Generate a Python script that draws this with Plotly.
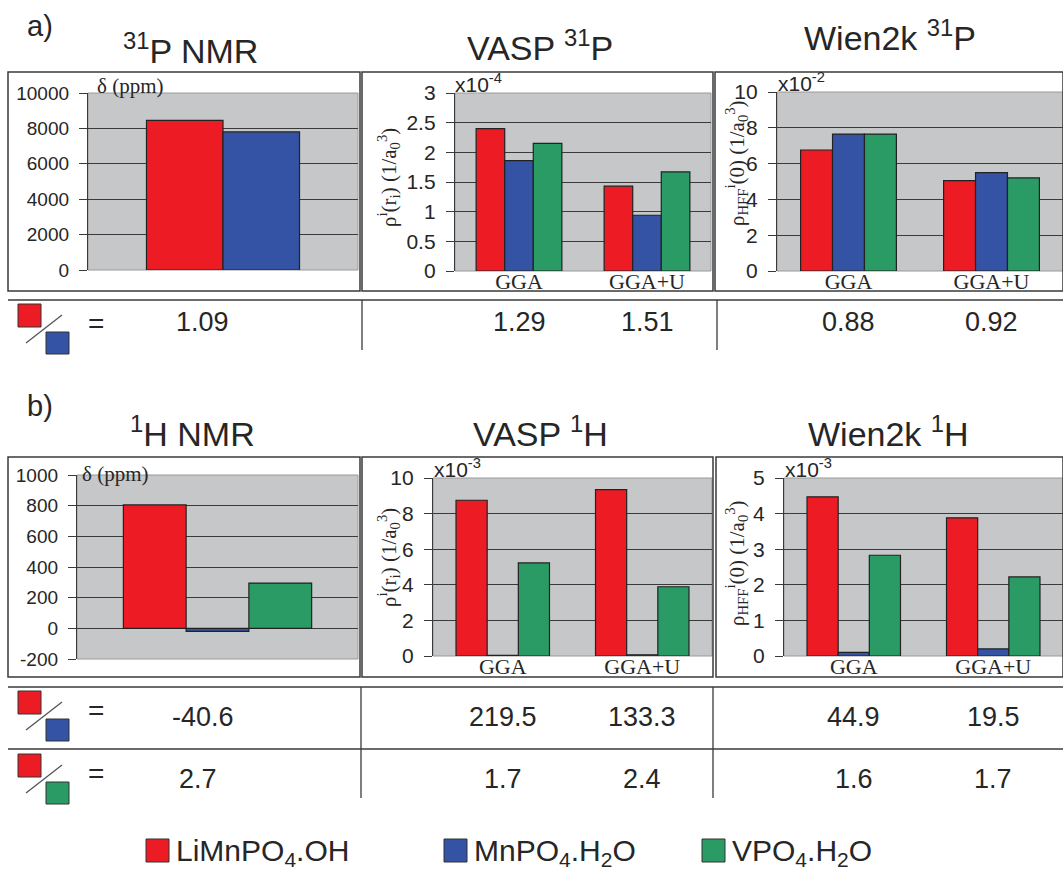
import plotly.graph_objects as go

W, H = 1063, 874

# ---------------- data ----------------
series_names = ["LiMnPO<sub>4</sub>.OH", "MnPO<sub>4</sub>.H<sub>2</sub>O", "VPO<sub>4</sub>.H<sub>2</sub>O"]
series_colors = ["#ED1C24", "#3553A4", "#2A9B65"]
methods = ["GGA", "GGA+U"]
nmr_category = ["NMR"]

# a) 31P
p31_nmr_red = [8450]
p31_nmr_blue = [7800]
vasp_p31_red = [2.40, 1.43]
vasp_p31_blue = [1.86, 0.94]
vasp_p31_green = [2.15, 1.67]
wien_p31_red = [6.76, 5.05]
wien_p31_blue = [7.65, 5.50]
wien_p31_green = [7.65, 5.20]

# b) 1H
h1_nmr_red = [805]
h1_nmr_blue = [-20]
h1_nmr_green = [295]
vasp_h1_red = [8.75, 9.35]
vasp_h1_blue = [0.04, 0.07]
vasp_h1_green = [5.23, 3.89]
wien_h1_red = [4.47, 3.88]
wien_h1_blue = [0.10, 0.20]
wien_h1_green = [2.83, 2.22]

# ratio tables
ratio_a_red_blue = ["1.09", "1.29", "1.51", "0.88", "0.92"]
ratio_b_red_blue = ["-40.6", "219.5", "133.3", "44.9", "19.5"]
ratio_b_red_green = ["2.7", "1.7", "2.4", "1.6", "1.7"]

titles_a = ["<sup>31</sup>P NMR", "VASP <sup>31</sup>P", "Wien2k <sup>31</sup>P"]
titles_b = ["<sup>1</sup>H NMR", "VASP <sup>1</sup>H", "Wien2k <sup>1</sup>H"]

# ---------------- helpers (pixel -> paper) ----------------
def X(px):
    return px / W

def Y(py):
    return 1 - py / H

SANS = "Liberation Sans, Arial, sans-serif"
SERIF = "Liberation Serif, Times New Roman, serif"
DARK = "#262626"
LINE = "#3a3a3a"

# panel layout: (x0, x1, ytop, ybottom) in pixels
panels = [
    dict(n=1, cats=nmr_category, data=[(0, p31_nmr_red), (1, p31_nmr_blue)],
         dom=(88, 358, 93, 270), yr=[0, 10000], dt=2000, xr=[-0.591, 0.591], fs=19),
    dict(n=2, cats=methods, data=[(0, vasp_p31_red), (1, vasp_p31_blue), (2, vasp_p31_green)],
         dom=(455, 711, 93, 271), yr=[0, 3], dt=0.5, xr=None, fs=21),
    dict(n=3, cats=methods, data=[(0, wien_p31_red), (1, wien_p31_blue), (2, wien_p31_green)],
         dom=(777, 1063, 92, 271), yr=[0, 10], dt=2, xr=None, fs=21),
    dict(n=4, cats=nmr_category, data=[(0, h1_nmr_red), (1, h1_nmr_blue), (2, h1_nmr_green)],
         dom=(77, 358, 475, 659), yr=[-200, 1000], dt=200, xr=None, fs=19),
    dict(n=5, cats=methods, data=[(0, vasp_h1_red), (1, vasp_h1_blue), (2, vasp_h1_green)],
         dom=(433, 712, 478, 656), yr=[0, 10], dt=2, xr=None, fs=21),
    dict(n=6, cats=methods, data=[(0, wien_h1_red), (1, wien_h1_blue), (2, wien_h1_green)],
         dom=(784, 1063, 478, 656), yr=[0, 5], dt=1, xr=None, fs=21),
]

fig = go.Figure()
layout = dict(
    width=W, height=H,
    margin=dict(l=0, r=0, t=0, b=0, autoexpand=False),
    paper_bgcolor="white",
    plot_bgcolor="#C6C7C9",
    barmode="group", bargap=0.33, bargroupgap=0,
    showlegend=False,
    font=dict(family=SANS, color=DARK),
)
shapes = []
annotations = []

def ann(text, px, py, size, family=SANS, xanchor="center", yanchor="middle", **kw):
    d = dict(text=text, x=X(px), y=Y(py), xref="paper", yref="paper",
             xanchor=xanchor, yanchor=yanchor, showarrow=False,
             font=dict(size=size, family=family, color=DARK))
    d.update(kw)
    annotations.append(d)

for p in panels:
    n = p["n"]
    xa = "x" if n == 1 else "x%d" % n
    ya = "y" if n == 1 else "y%d" % n
    for ci, vals in p["data"]:
        fig.add_trace(go.Bar(
            x=p["cats"], y=vals, xaxis=xa, yaxis=ya,
            marker=dict(color=series_colors[ci], line=dict(color="#222222", width=1.2)),
            name=series_names[ci], showlegend=False,
        ))
    x0, x1, yt, yb = p["dom"]
    lo, hi = p["yr"]
    tv = []
    v = lo
    while v <= hi + 1e-9:
        tv.append(round(v, 6))
        v += p["dt"]
    xkey = "xaxis" if n == 1 else "xaxis%d" % n
    ykey = "yaxis" if n == 1 else "yaxis%d" % n
    xax = dict(domain=[X(x0), X(x1)], anchor=ya, type="category",
               showgrid=False, zeroline=False, showline=False, ticks="",
               tickfont=dict(family=SERIF, size=22, color=DARK), automargin=False,
               showticklabels=(n not in (1, 4)), ticklabelstandoff=-5, fixedrange=True)
    if p["xr"]:
        xax["range"] = p["xr"]
    yax = dict(domain=[Y(yb), Y(yt)], anchor=xa, range=[lo, hi], automargin=False,
               tickvals=tv, ticktext=["%g" % t for t in tv],
               showline=True, linecolor=LINE, linewidth=1.3,
               ticks="outside", ticklen=8, tickwidth=1.3, tickcolor=LINE,
               showgrid=True, gridcolor=LINE, gridwidth=1,
               zeroline=(lo < 0), zerolinecolor=LINE, zerolinewidth=1.3,
               tickfont=dict(family=SANS, size=p["fs"], color=DARK),
               ticklabelstandoff=6, fixedrange=True)
    layout[xkey] = xax
    layout[ykey] = yax
    shapes.append(dict(type="rect", xref=xa + " domain", yref=ya + " domain",
                       x0=0, x1=1, y0=0, y1=1, line=dict(color="#9a9a9a", width=1),
                       layer="below"))

# outer boxes
for (bx0, bx1, by0, by1) in [(8, 360, 72, 291), (362, 713, 72, 291), (715, 1063, 72, 291),
                             (8, 360, 457, 677), (362, 713, 457, 677), (716, 1063, 457, 677)]:
    shapes.append(dict(type="rect", xref="paper", yref="paper",
                       x0=X(bx0), x1=X(bx1), y0=Y(by1), y1=Y(by0),
                       line=dict(color=LINE, width=1.5), layer="above"))

# table lines
def hline(py, xa0=8, xa1=1063):
    shapes.append(dict(type="line", xref="paper", yref="paper", x0=X(xa0), x1=X(xa1),
                       y0=Y(py), y1=Y(py), line=dict(color=LINE, width=1.5)))

def vline(px, py0, py1):
    shapes.append(dict(type="line", xref="paper", yref="paper", x0=X(px), x1=X(px),
                       y0=Y(py0), y1=Y(py1), line=dict(color=LINE, width=1.3)))

hline(300)
vline(362, 300, 350)
vline(717, 300, 350)
hline(687)
hline(749)
vline(361, 687, 798)
vline(713, 687, 798)

# ratio icons
def ratio_icon(top, c_top, c_bot):
    shapes.append(dict(type="rect", xref="paper", yref="paper",
                       x0=X(18), x1=X(41), y0=Y(top + 23), y1=Y(top),
                       fillcolor=c_top, line=dict(color="#333", width=1)))
    shapes.append(dict(type="rect", xref="paper", yref="paper",
                       x0=X(46), x1=X(69), y0=Y(top + 50), y1=Y(top + 28),
                       fillcolor=c_bot, line=dict(color="#333", width=1)))
    shapes.append(dict(type="line", xref="paper", yref="paper",
                       x0=X(26), x1=X(62), y0=Y(top + 39), y1=Y(top + 11),
                       line=dict(color="#555", width=1.3)))
    ann("=", 96, top + 19, 28)

ratio_icon(304, series_colors[0], series_colors[1])
ratio_icon(691, series_colors[0], series_colors[1])
ratio_icon(754, series_colors[0], series_colors[2])

def ratio_row(vals, py, nmr_x, ax_pair):
    ann(vals[0], nmr_x, py, 27)
    k = 1
    for xa in ax_pair:
        for m in methods:
            annotations.append(dict(text=vals[k], x=m, xref=xa, y=Y(py), yref="paper",
                                    xanchor="center", yanchor="middle", showarrow=False,
                                    font=dict(size=27, family=SANS, color=DARK)))
            k += 1

ratio_row(ratio_a_red_blue, 322, 202, ["x2", "x3"])
ratio_row(ratio_b_red_blue, 717, 203, ["x5", "x6"])
ratio_row(ratio_b_red_green, 779, 198, ["x5", "x6"])

# panel labels and titles
ann("a)", 40, 26, 29)
ann("b)", 40, 406, 29)
for t, cx, cy in zip(titles_a, [190, 540, 890], [48, 46, 36]):
    ann(t, cx, cy, 34)
for t, cx, cy in zip(titles_b, [192, 540, 888], [432, 431, 431]):
    ann(t, cx, cy, 34)

# axis titles
ann("δ (ppm)", 95, 86, 21, family=SERIF, xanchor="left")
ann("δ (ppm)", 80, 474, 21, family=SERIF, xanchor="left")
rho_vasp = "ρ<sup>i</sup>(r<sub>i</sub>) (1/a<sub>0</sub><sup>3</sup>)"
rho_wien = "ρ<sub>HFF</sub><sup>i</sup>(0) (1/a<sub>0</sub><sup>3</sup>)"
for t, cx, cy in [(rho_vasp, 388, 178), (rho_wien, 736, 163), (rho_vasp, 388, 558), (rho_wien, 736, 563)]:
    ann(t, cx, cy, 21, family=SERIF, textangle=-90)
for t, lx, ty in [("x10<sup>-4</sup>", 453, 93), ("x10<sup>-2</sup>", 776, 92),
                  ("x10<sup>-3</sup>", 432, 478), ("x10<sup>-3</sup>", 783, 478)]:
    ann(t, lx, ty + 5, 21, xanchor="left", yanchor="bottom")

# legend
for name, col, sx in zip(series_names, series_colors, [146, 444, 702]):
    shapes.append(dict(type="rect", xref="paper", yref="paper",
                       x0=X(sx), x1=X(sx + 23), y0=Y(862), y1=Y(839),
                       fillcolor=col, line=dict(color="#333", width=1)))
    ann(name, sx + 28, 852, 30, xanchor="left")

layout["shapes"] = shapes
layout["annotations"] = annotations
fig.update_layout(**layout)

fig.write_html("out.html", config={"displayModeBar": False},
               post_script="document.body.style.margin='0';document.body.style.padding='0';")
